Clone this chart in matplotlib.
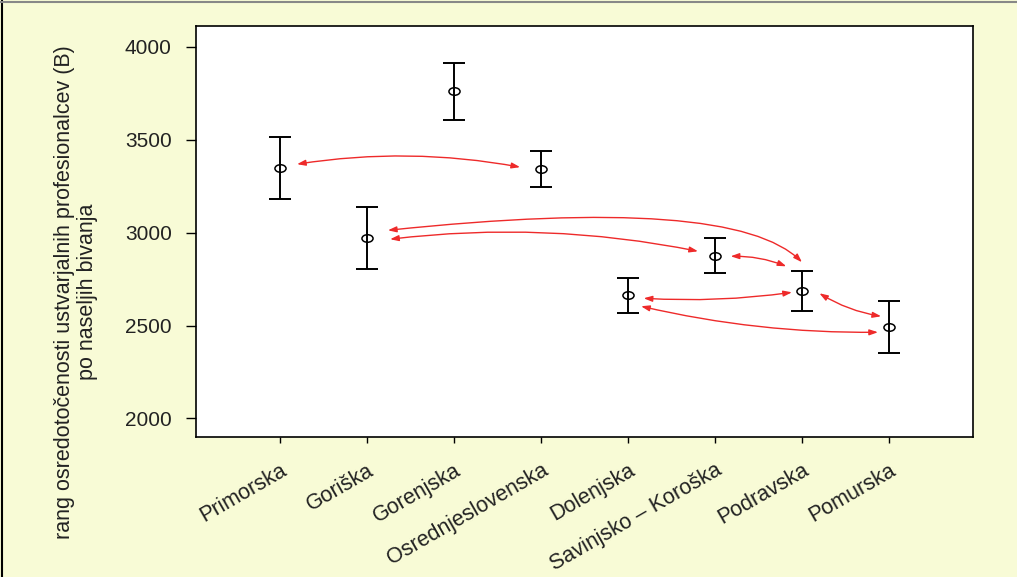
import matplotlib

matplotlib.use("Agg")
import matplotlib.pyplot as plt
import matplotlib.transforms as mtransforms
from matplotlib.lines import Line2D
from matplotlib.patches import FancyArrowPatch
from matplotlib.path import Path

# regions along x axis
regions = [
    "Primorska",
    "Goriška",
    "Gorenjska",
    "Osrednjeslovenska",
    "Dolenjska",
    "Savinjsko – Koroška",
    "Podravska",
    "Pomurska",
]
means = [3348, 2970, 3763, 3342, 2663, 2873, 2685, 2491]
upper = [3515, 3138, 3914, 3439, 2755, 2970, 2792, 2631]
lower = [3181, 2803, 3606, 3245, 2566, 2782, 2577, 2350]
y_ticks = [2000, 2500, 3000, 3500, 4000]

# significant differences between regions (index pairs)
links = [(0, 3), (1, 6), (1, 5), (5, 6), (4, 6), (4, 7), (6, 7)]
# where each arrow starts/ends relative to the point, and how it bends
link_offsets = [
    (0.195, 21, -0.24, 11),
    (0.24, 43, 0.0, 156),
    (0.265, -5, -0.195, 27),
    (0.18, 0, -0.18, 134),
    (0.18, -16, -0.115, -6),
    (0.15, -59, -0.126, -27),
    (0.2, -11, -0.09, 59),
]
link_styles = [
    "arc3,rad=-0.085",
    "angle3,angleA=6,angleB=-45",
    "arc3,rad=-0.08",
    "arc3,rad=-0.1",
    "arc3,rad=0.05",
    "arc3,rad=0.06",
    "arc3,rad=0.1",
]

BG = "#f8fbd6"
TXT = "#222222"
plt.rcParams["font.family"] = ["Liberation Sans", "DejaVu Sans"]

fig = plt.figure(figsize=(10.17, 5.77), dpi=100, facecolor=BG)
ax = fig.add_axes([196 / 1017, 1 - 437 / 577, (973 - 196) / 1017, (437 - 26) / 577])
ax.set_facecolor("white")

xs = list(range(len(regions)))
err_lo = [m - lo for m, lo in zip(means, lower)]
err_hi = [hi - m for m, hi in zip(means, upper)]

ellipse = Path.unit_circle().transformed(mtransforms.Affine2D().scale(1.0, 0.68))
ax.errorbar(
    xs,
    means,
    yerr=[err_lo, err_hi],
    fmt="none",
    ecolor="black",
    elinewidth=1.4,
    capsize=8,
    capthick=1.4,
    zorder=3,
)
ax.plot(xs, means, linestyle="none", marker=ellipse, markersize=8,
        markerfacecolor="none", markeredgecolor="black", markeredgewidth=1.1,
        zorder=4)

for (i, j), (dxa, dya, dxb, dyb), style in zip(links, link_offsets, link_styles):
    arrow = FancyArrowPatch(
        (xs[i] + dxa, means[i] + dya),
        (xs[j] + dxb, means[j] + dyb),
        arrowstyle="<|-|>,head_length=0.5,head_width=0.17",
        connectionstyle=style,
        mutation_scale=10,
        color="#ee2a2a",
        linewidth=1.0,
        shrinkA=0,
        shrinkB=0,
        zorder=5,
    )
    ax.add_patch(arrow)

ax.set_xlim(-0.966, 7.966)
ax.set_ylim(1900, 4113)
ax.set_yticks(y_ticks)
ax.set_yticklabels([str(v) for v in y_ticks])
ax.set_xticks(xs)
ax.set_xticklabels(regions, rotation=30, ha="right", va="top",
                   rotation_mode="anchor")
shift = mtransforms.ScaledTranslation(0.06, 0, fig.dpi_scale_trans)
for lab in ax.get_xticklabels():
    lab.set_transform(lab.get_transform() + shift)

ax.tick_params(axis="y", length=7.5, width=1.0, pad=10, labelsize=15,
               labelcolor=TXT, direction="out")
ax.tick_params(axis="x", length=4.5, width=1.0, pad=12, labelsize=15.5,
               labelcolor=TXT, direction="out")
for sp in ax.spines.values():
    sp.set_linewidth(1.2)

fig.text(76 / 1017, 1 - 292 / 577,
         "rang osredotočenosti ustvarjalnih profesionalcev (B)\npo naseljih bivanja",
         rotation=90, ha="center", va="center", multialignment="center",
         fontsize=15.5, color=TXT, linespacing=1.1)

# frame around the panel (left and top edge only)
fig.add_artist(Line2D([1.5 / 1017, 1.5 / 1017], [0, 1], transform=fig.transFigure,
                      color="black", linewidth=1.5))
fig.add_artist(Line2D([0, 1], [1 - 1.5 / 577, 1 - 1.5 / 577], transform=fig.transFigure,
                      color="#888888", linewidth=1.5))

fig.savefig("out.png", dpi=100, facecolor=BG)
plt.close(fig)
